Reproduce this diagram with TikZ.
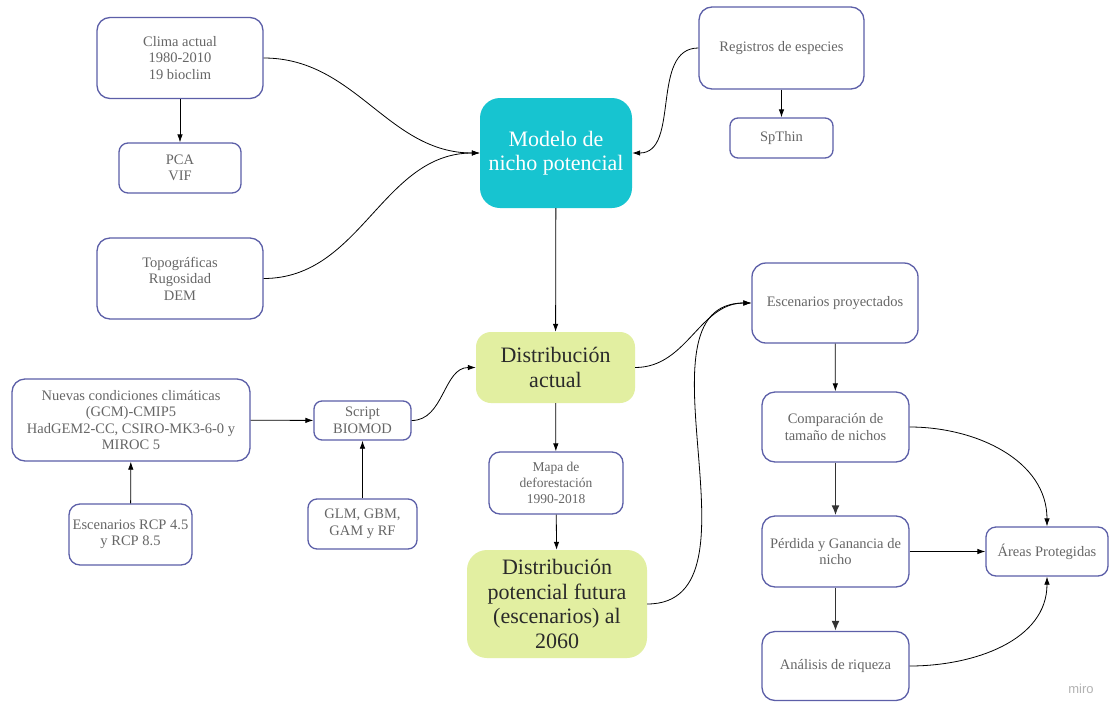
\documentclass[tikz,border=0pt]{standalone}
\usepackage{fontspec}
\setmainfont{Liberation Serif}
\newfontfamily\mirofont{Liberation Sans}
\usetikzlibrary{arrows.meta}
\definecolor{bcol}{HTML}{5C5FA8}
\definecolor{tgray}{HTML}{666666}
\definecolor{teal1}{HTML}{17C4D0}
\definecolor{ygreen}{HTML}{E2EFA1}
\definecolor{dtext}{HTML}{2A2A2A}
\tikzset{
  box/.style={draw=bcol, line width=1.3pt, align=center, text=tgray, inner sep=0pt,
    font={\fontsize{14.5}{16.5}\selectfont}},
  bigbox/.style={draw=none, align=center, inner sep=0pt, font={\fontsize{22}{24.5}\selectfont}},
  conn/.style={draw=black, line width=0.8pt, -{Latex[length=8pt,width=5.5pt]}},
  thickconn/.style={draw=black!80, line width=1.8pt, -{Latex[length=10pt,width=8pt]}}
}
\begin{document}
\begin{tikzpicture}[x=1pt,y=1pt]
\useasboundingbox[fill=white] (0,0) rectangle (1112,-702);

% left column
\node[box, minimum width=166pt, minimum height=81pt, rounded corners=13pt] (clima) at (180,-58) {Clima actual\\1980-2010\\19 bioclim};
\node[box, minimum width=122pt, minimum height=50pt, rounded corners=9pt] (pca) at (180,-168) {PCA\\VIF};
\node[box, minimum width=166pt, minimum height=81pt, rounded corners=13pt] (topo) at (180,-278.5) {Topográficas\\Rugosidad\\DEM};

% centre
\node[bigbox, fill=teal1, text=white, minimum width=152pt, minimum height=110pt, rounded corners=20pt] (modelo) at (556,-153) {Modelo de\\nicho potencial};
\node[bigbox, fill=ygreen, text=dtext, minimum width=159pt, minimum height=71pt, rounded corners=15pt] (actual) at (555.5,-367.5) {Distribución\\actual};
\node[box, minimum width=134pt, minimum height=62pt, rounded corners=11pt, font={\fontsize{13.5}{16}\selectfont}] (mapa) at (556,-483) {Mapa de\\deforestación\\1990-2018};
\node[bigbox, fill=ygreen, text=dtext, minimum width=180pt, minimum height=108pt, rounded corners=20pt] (futura) at (557,-604) {Distribución\\potencial futura\\(escenarios) al\\2060};

% top right
\node[box, minimum width=165pt, minimum height=82pt, rounded corners=13pt] (reg) at (781.5,-48) {Registros de especies};
\node[box, minimum width=103pt, minimum height=40pt, rounded corners=8pt] (spthin) at (781.5,-138) {SpThin};

% bottom left
\node[box, minimum width=238pt, minimum height=82pt, rounded corners=13pt] (nuevas) at (131,-420) {Nuevas condiciones climáticas\\(GCM)-CMIP5\\HadGEM2-CC, CSIRO-MK3-6-0 y\\MIROC 5};
\node[box, minimum width=123pt, minimum height=61pt, rounded corners=11pt] (rcp) at (130.5,-534.5) {Escenarios RCP 4.5\\y RCP 8.5};
\node[box, minimum width=97pt, minimum height=39pt, rounded corners=8pt] (script) at (362.5,-420.5) {Script\\BIOMOD};
\node[box, minimum width=109pt, minimum height=50pt, rounded corners=9pt] (glm) at (362.5,-524) {GLM, GBM,\\GAM y RF};

% right column
\node[box, minimum width=166pt, minimum height=80pt, rounded corners=14pt] (esc) at (835,-303) {Escenarios proyectados};
\node[box, minimum width=147pt, minimum height=70pt, rounded corners=13pt] (comp) at (835.5,-427) {Comparación de\\tamaño de nichos};
\node[box, minimum width=147pt, minimum height=71pt, rounded corners=13pt] (perd) at (835.5,-551.5) {Pérdida y Ganancia de\\nicho};
\node[box, minimum width=147pt, minimum height=69pt, rounded corners=13pt] (anal) at (835.5,-666) {Análisis de riqueza};
\node[box, minimum width=122pt, minimum height=49pt, rounded corners=10pt] (areas) at (1047,-551.5) {Áreas Protegidas};

\node[text=black!30, font={\mirofont\fontsize{13}{13}\selectfont}, inner sep=0pt] (miro) at (1081,-689) {miro};

% connectors
\draw[conn] (clima) -- (pca);
\draw[conn] (clima.east) to[out=0,in=180] (modelo.west);
\draw[conn] (topo.east) to[out=0,in=180] (modelo.west);
\draw[conn] (reg.west) to[out=180,in=0] (modelo.east);
\draw[conn] (reg) -- (spthin);
\draw[conn] (modelo) -- (actual);
\draw[conn] (nuevas) -- (script);
\draw[conn] (rcp) -- (nuevas);
\draw[conn] (glm) -- (script);
\draw[conn] (script.east) to[out=0,in=180] (actual.west);
\draw[conn] (actual) -- (mapa);
\draw[conn] (mapa) -- (futura);
\draw[conn] (actual.east) to[out=0,in=180] (esc.west);
\draw[conn] (futura.east) to[out=0,in=180] (esc.west);
\draw[conn] (esc) -- (comp);
\draw[thickconn] (comp) -- (perd);
\draw[thickconn] (perd) -- (anal);
\draw[conn] (comp.east) to[out=0,in=90] (areas.north);
\draw[conn] (perd) -- (areas);
\draw[conn] (anal.east) to[out=0,in=-90] (areas.south);
\end{tikzpicture}
\end{document}
